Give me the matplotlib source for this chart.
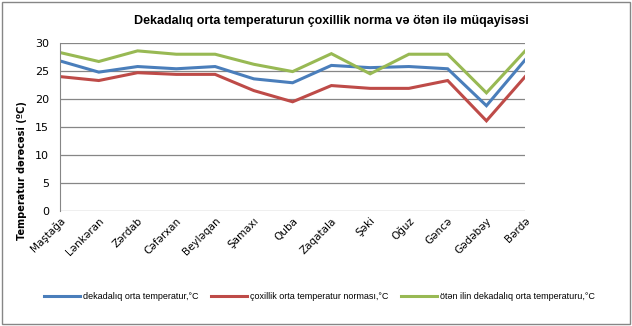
import matplotlib.pyplot as plt
from matplotlib.patches import Rectangle

# stations
stations = ['Maştağa', 'Lənkəran', 'Zərdab', 'Cəfərxan', 'Beyləqan', 'Şamaxı', 'Quba',
            'Zaqatala', 'Şəki', 'Oğuz', 'Gəncə', 'Gədəbəy', 'Bərdə']

# temperatures, °C
dekada = [26.8, 24.8, 25.8, 25.4, 25.8, 23.6, 22.9, 26.0, 25.6, 25.8, 25.4, 18.8, 27.0]
norma = [24.0, 23.3, 24.7, 24.4, 24.4, 21.5, 19.5, 22.4, 21.9, 21.9, 23.3, 16.1, 24.0]
oten_il = [28.3, 26.7, 28.6, 28.0, 28.0, 26.2, 24.9, 28.1, 24.5, 28.0, 28.0, 21.1, 28.6]

series_names = ['dekadalıq orta temperatur,°C',
                'çoxillik orta temperatur norması,°C',
                'ötən ilin dekadalıq orta temperaturu,°C']
colors = ['#4a7ebb', '#be4b48', '#98b954']

fig = plt.figure(figsize=(6.32, 3.26), dpi=100)
ax = fig.add_axes([0.095, 0.353, 0.736, 0.515])

x = range(len(stations))
for vals, name, c in zip([dekada, norma, oten_il], series_names, colors):
    ax.plot(x, vals, color=c, lw=2.2, label=name, solid_joinstyle='miter')

ax.set_xlim(0, len(stations) - 1)
ax.set_ylim(0, 30)
ax.set_yticks(range(0, 31, 5))
ax.yaxis.grid(True, color='#868686', lw=0.9)
ax.set_axisbelow(True)
for s in ['top', 'right', 'bottom']:
    ax.spines[s].set_visible(False)
ax.spines['left'].set_color('#868686')
ax.tick_params(axis='both', length=0, labelsize=8)
ax.tick_params(axis='y', pad=8)
ax.set_xticks(list(x))
ax.set_xticklabels(stations, rotation=45, ha='right', rotation_mode='anchor', fontsize=7.5)

ax.set_ylabel('Temperatur dərəcəsi (ºC)', fontsize=7, fontweight='bold')
ax.yaxis.set_label_coords(-0.07, 0.24)
fig.text(0.525, 0.935, 'Dekadalıq orta temperaturun çoxillik norma və ötən ilə müqayisəsi',
         ha='center', va='center', fontsize=9, fontweight='bold', family='Liberation Sans')

fig.legend(loc='center', bbox_to_anchor=(0.505, 0.09), ncol=3, frameon=False,
           prop={'family': 'Liberation Sans', 'size': 6.5},
           handlelength=4, handletextpad=0.3, columnspacing=1.4)

fig.patches.append(Rectangle((0.003, 0.005), 0.994, 0.99, transform=fig.transFigure,
                             fill=False, edgecolor='#868686', lw=1))

fig.savefig('out.png', dpi=100)
